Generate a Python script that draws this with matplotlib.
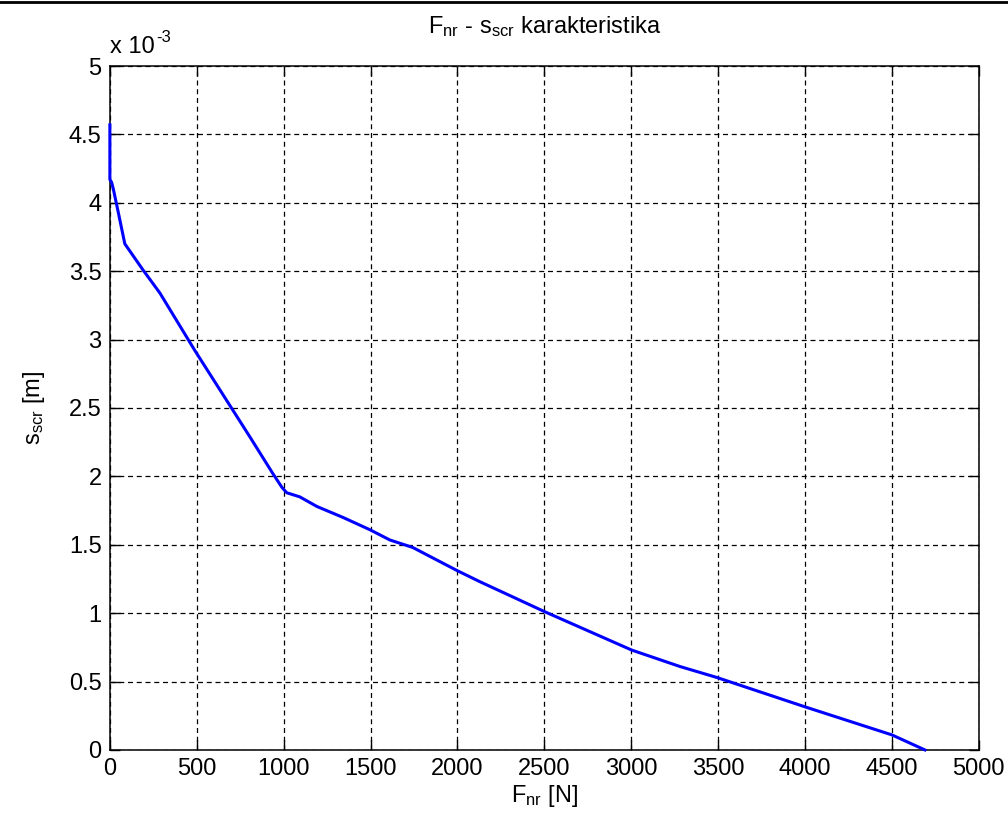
import matplotlib
matplotlib.use("Agg")
import matplotlib.pyplot as plt
from matplotlib.ticker import FuncFormatter, MultipleLocator
from matplotlib.lines import Line2D

plt.rcParams['font.family'] = ['Liberation Sans', 'DejaVu Sans']
plt.rcParams['mathtext.fontset'] = 'custom'
plt.rcParams['mathtext.rm'] = 'Liberation Sans'
plt.rcParams['mathtext.it'] = 'Liberation Sans'

# F_nr [N] vs s_scr [m]
f_nr = [0, 0, 10, 20, 50, 86, 190, 288, 489, 805, 938, 990, 1018, 1093, 1191,
        1341, 1496, 1611, 1743, 2000, 2129, 2503, 3003, 3280, 3492, 4000,
        4500, 4690]
s_scr = [4.57e-3, 4.17e-3, 4.15e-3, 4.10e-3, 3.92e-3, 3.70e-3, 3.51e-3,
         3.34e-3, 2.92e-3, 2.29e-3, 2.02e-3, 1.92e-3, 1.88e-3, 1.85e-3,
         1.78e-3, 1.70e-3, 1.61e-3, 1.535e-3, 1.48e-3, 1.31e-3, 1.23e-3,
         1.01e-3, 0.73e-3, 0.61e-3, 0.53e-3, 0.315e-3, 0.11e-3, 0.0]

fig = plt.figure(figsize=(10.08, 8.25), dpi=100)
ax = fig.add_axes([0.109, 0.091, 0.862, 0.829])

ax.plot(f_nr, s_scr, color='blue', linewidth=2.2, solid_joinstyle='round',
        clip_on=False, zorder=3)

ax.set_xlim(0, 5000)
ax.set_ylim(0, 5e-3)
ax.xaxis.set_major_locator(MultipleLocator(500))
ax.yaxis.set_major_locator(MultipleLocator(0.5e-3))
ax.yaxis.set_major_formatter(FuncFormatter(lambda v, p: '%g' % round(v * 1e3, 3)))

ax.grid(True, color='black', linestyle=(0, (4, 3)), linewidth=0.9)
ax.tick_params(direction='in', length=7, width=1, top=True, right=True,
               labelsize=17, pad=6)
for s in ax.spines.values():
    s.set_linewidth(1.1)

ax.set_title(r'F$_{\mathregular{nr}}$ - s$_{\mathregular{scr}}$ karakteristika',
             fontsize=17, pad=24)
ax.set_xlabel(r'F$_{\mathregular{nr}}$ [N]', fontsize=17, labelpad=2)
ax.set_ylabel(r's$_{\mathregular{scr}}$ [m]', fontsize=17, labelpad=16)

# MATLAB style exponent label above the y axis
t = ax.text(0.0, 1.012, 'x 10', transform=ax.transAxes,
            fontsize=17, ha='left', va='bottom')
ax.annotate('-3', xy=(1, 1), xycoords=t, xytext=(1, 4),
            textcoords='offset points', fontsize=12, ha='left', va='top')

fig.add_artist(Line2D([0, 1], [0.998, 0.998], color='black', linewidth=2,
                      transform=fig.transFigure))

fig.savefig('out.png', dpi=100)
